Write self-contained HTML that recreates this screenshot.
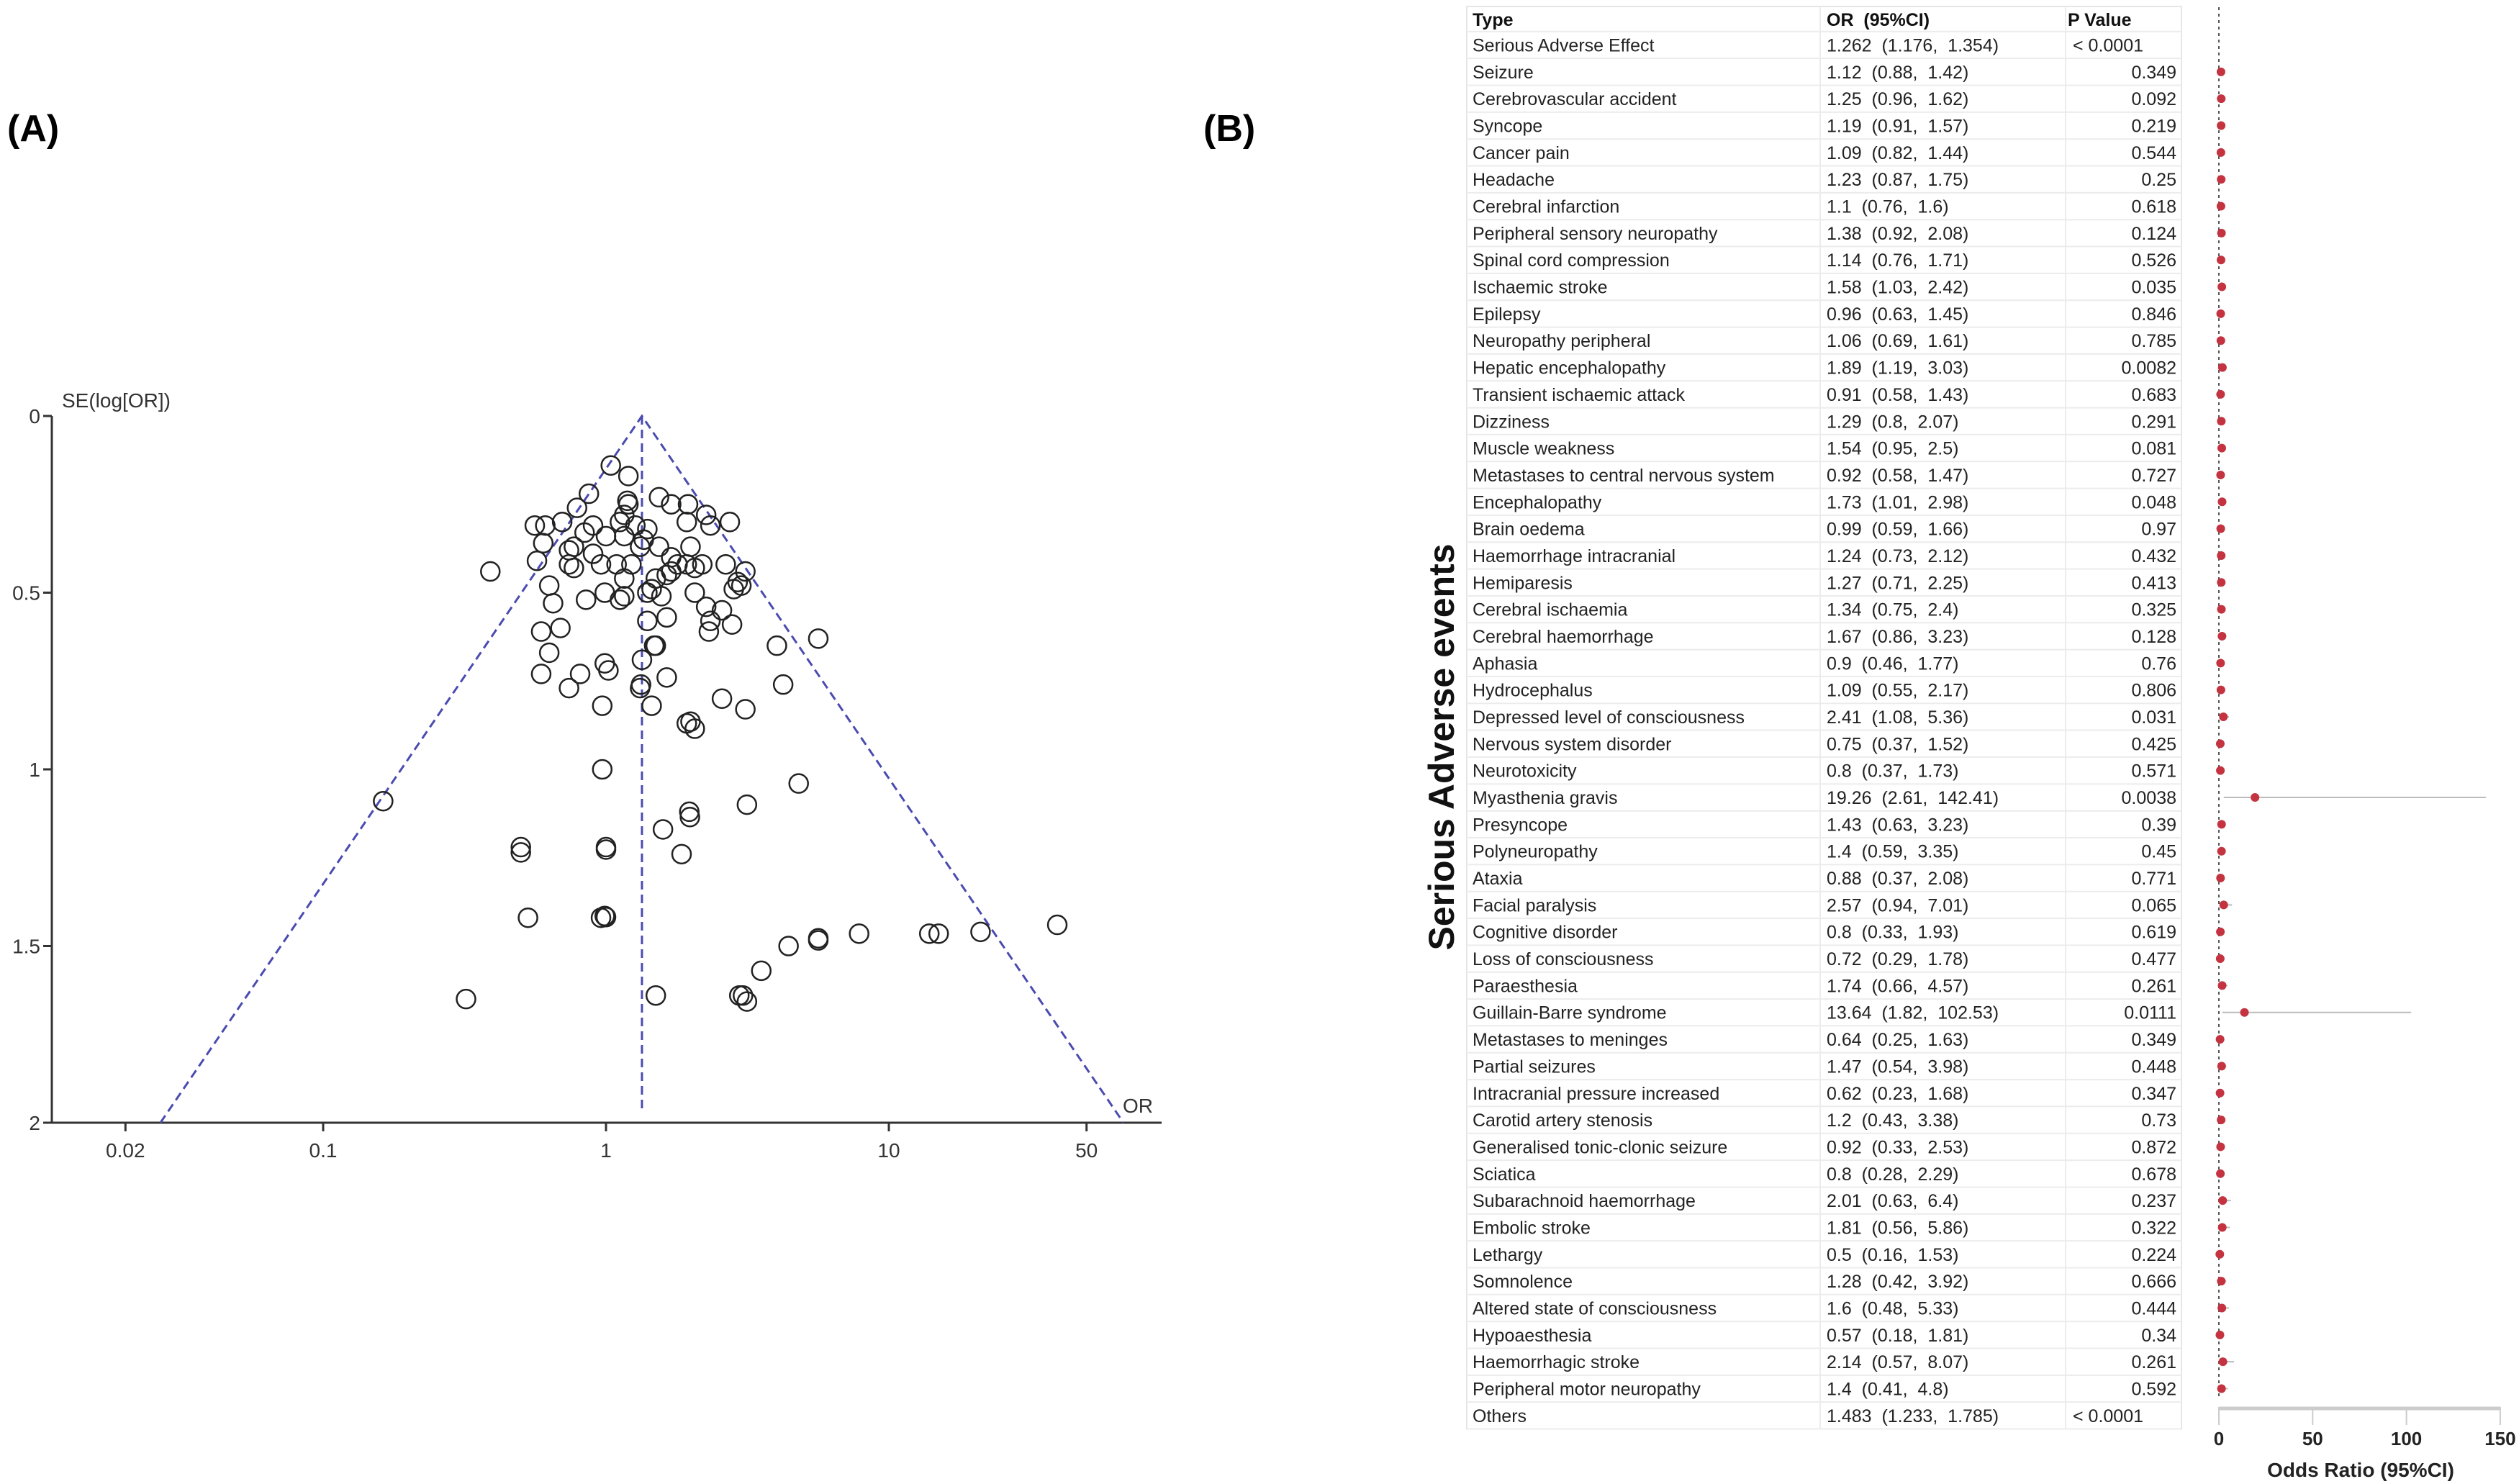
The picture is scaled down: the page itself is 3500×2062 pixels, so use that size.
<!DOCTYPE html>
<html><head><meta charset="utf-8"><style>
html,body{margin:0;padding:0;background:#fff;}
body{width:3500px;height:2062px;overflow:hidden;position:relative;font-family:"Liberation Sans",sans-serif;}
svg{position:absolute;left:0;top:0;}
text{white-space:pre;}
</style></head><body>
<svg id="chart" width="3500" height="2062" viewBox="0 0 3500 2062">
<text x="10" y="196" font-size="52" font-weight="bold" font-family="Liberation Sans, sans-serif">(A)</text>
<text x="1672" y="196" font-size="52" font-weight="bold" font-family="Liberation Sans, sans-serif">(B)</text>
<g id="funnel"></g>
<g id="forest"></g>
</svg>
<script>
// ---------- Funnel plot data ----------
const funnelOR = [1.04,1.20,0.87,0.79,1.19,1.20,1.54,1.70,1.95,2.26,2.74,0.70,0.61,0.56,1.16,1.12,1.27,1.40,1.93,2.34,0.90,0.84,1.0,1.16,1.36,1.32,1.54,0.60,0.77,0.74,0.90,0.96,1.09,0.74,0.77,0.57,0.39,1.23,1.70,1.79,1.99,1.93,2.06,2.19,2.65,3.11,3.01,2.92,2.83,1.70,1.64,1.50,1.45,1.40,1.57,1.16,1.16,1.12,0.99,0.85,0.63,0.65,2.06,2.26,2.34,2.57,2.31,2.79,1.40,1.64,0.59,0.69,0.63,1.48,1.50,1.34,0.99,1.02,0.59,0.81,0.74,1.32,1.33,1.64,0.97,1.45,2.57,3.11,4.02,5.63,4.23,1.93,1.99,2.06,0.97,4.80,0.163,3.15,1.97,1.98,1.59,0.50,0.50,1.0,1.0,1.85,0.53,0.96,0.99,1.0,39.4,21.1,13.9,15.0,7.85,5.63,5.63,4.42,3.54,0.32,1.50,2.96,3.05,3.15];
const funnelSE = [0.14,0.17,0.22,0.26,0.24,0.25,0.23,0.25,0.25,0.28,0.30,0.30,0.31,0.31,0.28,0.30,0.31,0.32,0.30,0.31,0.31,0.33,0.34,0.34,0.35,0.37,0.37,0.36,0.37,0.38,0.39,0.42,0.42,0.42,0.43,0.41,0.44,0.42,0.40,0.42,0.37,0.42,0.43,0.42,0.42,0.44,0.48,0.47,0.49,0.44,0.45,0.46,0.49,0.50,0.51,0.46,0.51,0.52,0.50,0.52,0.48,0.53,0.50,0.54,0.58,0.55,0.61,0.59,0.58,0.57,0.61,0.60,0.67,0.65,0.65,0.69,0.70,0.72,0.73,0.73,0.77,0.77,0.76,0.74,0.82,0.82,0.80,0.83,0.65,0.63,0.76,0.87,0.865,0.885,1.00,1.04,1.09,1.10,1.12,1.135,1.17,1.22,1.235,1.22,1.227,1.24,1.42,1.42,1.415,1.418,1.44,1.46,1.465,1.465,1.465,1.478,1.484,1.50,1.57,1.65,1.64,1.64,1.64,1.657];
const pooledOR = 1.34;
const xTicks = [0.02,0.1,1,10,50];
const xTickLabels = ["0.02","0.1","1","10","50"];
const yTicks = [0,0.5,1,1.5,2];
const yTickLabels = ["0","0.5","1","1.5","2"];

// ---------- Forest table data ----------
const types = ["Serious Adverse Effect","Seizure","Cerebrovascular accident","Syncope","Cancer pain","Headache","Cerebral infarction","Peripheral sensory neuropathy","Spinal cord compression","Ischaemic stroke","Epilepsy","Neuropathy peripheral","Hepatic encephalopathy","Transient ischaemic attack","Dizziness","Muscle weakness","Metastases to central nervous system","Encephalopathy","Brain oedema","Haemorrhage intracranial","Hemiparesis","Cerebral ischaemia","Cerebral haemorrhage","Aphasia","Hydrocephalus","Depressed level of consciousness","Nervous system disorder","Neurotoxicity","Myasthenia gravis","Presyncope","Polyneuropathy","Ataxia","Facial paralysis","Cognitive disorder","Loss of consciousness","Paraesthesia","Guillain-Barre syndrome","Metastases to meninges","Partial seizures","Intracranial pressure increased","Carotid artery stenosis","Generalised tonic-clonic seizure","Sciatica","Subarachnoid haemorrhage","Embolic stroke","Lethargy","Somnolence","Altered state of consciousness","Hypoaesthesia","Haemorrhagic stroke","Peripheral motor neuropathy","Others"];
const ors = [1.262,1.12,1.25,1.19,1.09,1.23,1.1,1.38,1.14,1.58,0.96,1.06,1.89,0.91,1.29,1.54,0.92,1.73,0.99,1.24,1.27,1.34,1.67,0.9,1.09,2.41,0.75,0.8,19.26,1.43,1.4,0.88,2.57,0.8,0.72,1.74,13.64,0.64,1.47,0.62,1.2,0.92,0.8,2.01,1.81,0.5,1.28,1.6,0.57,2.14,1.4,1.483];
const lows = [1.176,0.88,0.96,0.91,0.82,0.87,0.76,0.92,0.76,1.03,0.63,0.69,1.19,0.58,0.8,0.95,0.58,1.01,0.59,0.73,0.71,0.75,0.86,0.46,0.55,1.08,0.37,0.37,2.61,0.63,0.59,0.37,0.94,0.33,0.29,0.66,1.82,0.25,0.54,0.23,0.43,0.33,0.28,0.63,0.56,0.16,0.42,0.48,0.18,0.57,0.41,1.233];
const highs = [1.354,1.42,1.62,1.57,1.44,1.75,1.6,2.08,1.71,2.42,1.45,1.61,3.03,1.43,2.07,2.5,1.47,2.98,1.66,2.12,2.25,2.4,3.23,1.77,2.17,5.36,1.52,1.73,142.41,3.23,3.35,2.08,7.01,1.93,1.78,4.57,102.53,1.63,3.98,1.68,3.38,2.53,2.29,6.4,5.86,1.53,3.92,5.33,1.81,8.07,4.8,1.785];
const pvals = ["< 0.0001","0.349","0.092","0.219","0.544","0.25","0.618","0.124","0.526","0.035","0.846","0.785","0.0082","0.683","0.291","0.081","0.727","0.048","0.97","0.432","0.413","0.325","0.128","0.76","0.806","0.031","0.425","0.571","0.0038","0.39","0.45","0.771","0.065","0.619","0.477","0.261","0.0111","0.349","0.448","0.347","0.73","0.872","0.678","0.237","0.322","0.224","0.666","0.444","0.34","0.261","0.592","< 0.0001"];
const forestTicks = [0,50,100,150];

const NS = "http://www.w3.org/2000/svg";
function mk(parent, tag, attrs, text){
  const e = document.createElementNS(NS, tag);
  for (const k in attrs) e.setAttribute(k, attrs[k]);
  if (text !== undefined) e.textContent = text;
  parent.appendChild(e);
  return e;
}

// ---------- Funnel ----------
const fx = v => 842 + Math.log10(v) * 393;
const fy = s => 578 + s * 491;
const fg = document.getElementById("funnel");
let el;
el = mk(fg, "line", {x1:72,y1:fy(0),x2:72,y2:fy(2),stroke:"#333","stroke-width":3});


el = mk(fg, "line", {x1:60,y1:fy(2),x2:1614,y2:fy(2),stroke:"#333","stroke-width":3});


yTicks.forEach((t,i)=>{
  mk(fg,"line",{x1:60,y1:fy(t),x2:72,y2:fy(t),stroke:"#333","stroke-width":3});
  el = mk(fg,"text",{x:56,y:fy(t)+10,"text-anchor":"end","font-size":28,fill:"#333"}, yTickLabels[i]);
  
  
});
xTicks.forEach((t,i)=>{
  mk(fg,"line",{x1:fx(t),y1:fy(2),x2:fx(t),y2:fy(2)+12,stroke:"#333","stroke-width":3});
  el = mk(fg,"text",{x:fx(t),y:fy(2)+48,"text-anchor":"middle","font-size":28,fill:"#333"}, xTickLabels[i]);
  
  
});
el = mk(fg,"text",{x:86,y:fy(0)-12,"font-size":28,fill:"#333"},"SE(log[OR])");


el = mk(fg,"text",{x:1560,y:fy(2)-14,"font-size":28,fill:"#333"},"OR");


const lp = Math.log10(pooledOR), k = 1.96/Math.LN10;
const apx = fx(pooledOR), apy = fy(0);
const lx = 842 + (lp - k*2)*393, rx = 842 + (lp + k*2)*393;
el = mk(fg,"polyline",{points:`${lx},${fy(2)} ${apx},${apy} ${rx},${fy(2)}`,fill:"none",stroke:"#4b4bb0","stroke-width":3,"stroke-dasharray":"12,7"});


el = mk(fg,"line",{x1:apx,y1:apy,x2:apx,y2:fy(1.96),stroke:"#4b4bb0","stroke-width":3,"stroke-dasharray":"12,7"});


funnelOR.forEach((v,i)=>{
  const c = mk(fg,"circle",{cx:fx(v),cy:fy(funnelSE[i]),r:13,fill:"none",stroke:"#222","stroke-width":2.5});
  
  
});

// ---------- Forest table ----------
const tg = document.getElementById("forest");
const rowH = 37.34, row0 = 62.5, hdrY = 27;
const tL = 2038, tR = 3031, c2 = 2529, c3 = 2870;
mk(tg,"rect",{x:tL,y:9,width:tR-tL,height:row0+51*rowH+rowH/2-9,fill:"none",stroke:"#e6e6e6","stroke-width":2});
mk(tg,"line",{x1:c2,y1:9,x2:c2,y2:row0+51.5*rowH,stroke:"#ececec","stroke-width":2});
mk(tg,"line",{x1:c3,y1:9,x2:c3,y2:row0+51.5*rowH,stroke:"#ececec","stroke-width":2});
for (let i=0;i<=52;i++){
  const y = row0 - rowH/2 + i*rowH;
  mk(tg,"line",{x1:tL,y1:y,x2:tR,y2:y,stroke:"#ececec","stroke-width":2});
}
const hdr = [["Type",2046,"start"],["OR  (95%CI)",2538,"start"],["P Value",2873,"start"]];
hdr.forEach(h=>{
  el = mk(tg,"text",{x:h[1],y:hdrY+9,"font-size":25,"font-weight":"bold",fill:"#111","text-anchor":h[2]},h[0]);
  
  
});
const xF = v => 3083 + v * 2.606;
types.forEach((t,i)=>{
  const y = row0 + i*rowH;
  el = mk(tg,"text",{x:2046,y:y+9,"font-size":25,fill:"#222"},t);
  
  
  el = mk(tg,"text",{x:2538,y:y+9,"font-size":25,fill:"#222"},`${ors[i]}  (${lows[i]},  ${highs[i]})`);
  
  
  const lt = pvals[i].startsWith("<");
  el = mk(tg,"text",{x:lt?2880:3024,y:y+9,"font-size":25,fill:"#222","text-anchor":lt?"start":"end"},pvals[i]);
  
  
});
el = mk(tg,"line",{x1:3083,y1:10,x2:3083,y2:1945,stroke:"#555","stroke-width":2,"stroke-dasharray":"4,5"});


types.forEach((t,i)=>{
  if (i===0 || i===types.length-1) return;
  const y = row0 + i*rowH;
  el = mk(tg,"line",{x1:xF(lows[i]),y1:y,x2:xF(highs[i]),y2:y,stroke:"#bbb","stroke-width":2});
  
  
  el = mk(tg,"circle",{cx:xF(ors[i]),cy:y,r:6,fill:"#c43340"});
  
  
});
el = mk(tg,"line",{x1:3083,y1:1957,x2:3474,y2:1957,stroke:"#ccc","stroke-width":5});


forestTicks.forEach(t=>{
  mk(tg,"line",{x1:xF(t),y1:1955,x2:xF(t),y2:1980,stroke:"#ccc","stroke-width":2});
  el = mk(tg,"text",{x:xF(t),y:2008,"text-anchor":"middle","font-size":26,"font-weight":"bold",fill:"#222"},String(t));
  
  
});
el = mk(tg,"text",{x:3280,y:2052,"text-anchor":"middle","font-size":28,"font-weight":"bold",fill:"#222"},"Odds Ratio (95%CI)");


el = mk(tg,"text",{x:0,y:0,"text-anchor":"middle","font-size":50,"font-weight":"bold",fill:"#111",transform:"translate(2020,1038) rotate(-90)"},"Serious Adverse events");


</script>
</body></html>
